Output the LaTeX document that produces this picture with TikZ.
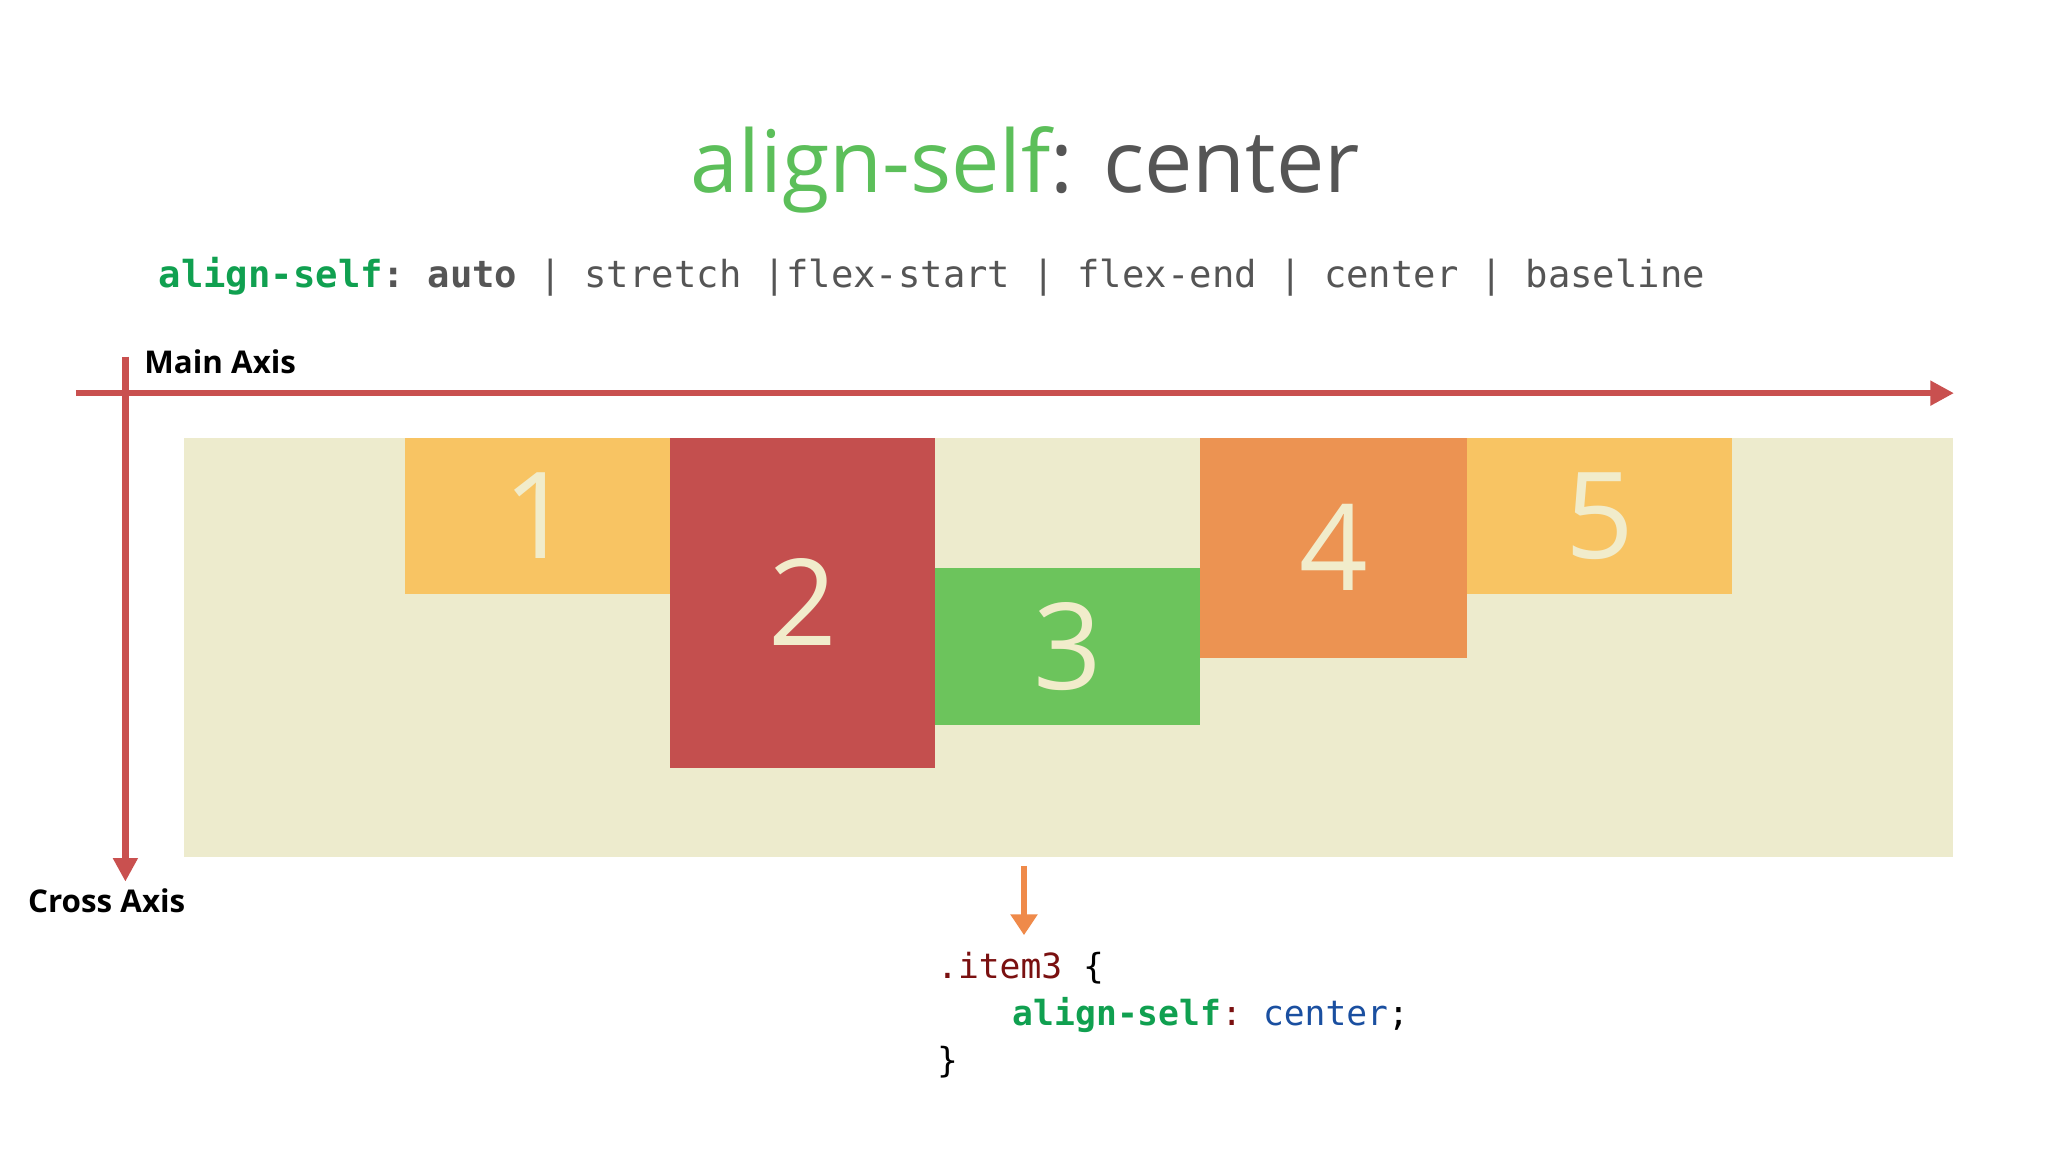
\documentclass[tikz,border=0pt]{standalone}
\usepackage{fontspec}
\setmainfont{Open Sans}
\setmonofont{DejaVu Sans Mono}
\newfontfamily\labfont{Open Sans}
\definecolor{ttl}{HTML}{5CBF5A}
\definecolor{gry}{HTML}{555555}
\definecolor{axc}{HTML}{C9504F}
\definecolor{cont}{HTML}{EDEBCD}
\definecolor{yel}{HTML}{F8C463}
\definecolor{red2}{HTML}{C44F4E}
\definecolor{grn}{HTML}{6CC45C}
\definecolor{org}{HTML}{EC9352}
\definecolor{numc}{HTML}{F1ECCB}
\definecolor{kw}{HTML}{10A050}
\definecolor{sel}{HTML}{7A1010}
\definecolor{val}{HTML}{1A4FA0}
\definecolor{oarr}{HTML}{EF8A4A}
\usetikzlibrary{arrows.meta}
\begin{document}
\begin{tikzpicture}[x=1pt,y=-1pt,
  item/.style={draw=none,inner sep=0pt},
  num/.style={font=\fontsize{92}{92}\selectfont, text=numc},
  axis/.style={draw=axc,line width=5pt,-{Triangle[length=18pt,width=18pt]}}]
\useasboundingbox[fill=white] (0,0) rectangle (1568,882);
\node[font=\fontsize{66}{66}\selectfont] (title) at (785,130) {\textcolor{ttl}{align-self}\textcolor{gry}{: center}};
\node[anchor=west,font=\ttfamily\fontsize{28.5}{28.5}\selectfont,text=gry] (syn) at (118,212) {\textcolor{kw}{\bfseries align-self}\textbf{: auto} | stretch |flex-start | flex-end | center | baseline};
\fill[cont] (141,335) rectangle (1495,656);
\fill[yel] (310,335) rectangle (513,455);
\node[num] (n1) at (411.5,395) {1};
\fill[red2] (513,335) rectangle (716,588);
\node[num] (n2) at (614.5,461) {2};
\fill[grn] (716,435) rectangle (919,555);
\node[num] (n3) at (817.5,495) {3};
\fill[org] (919,335) rectangle (1123,504);
\node[num] (n4) at (1021,419) {4};
\fill[yel] (1123,335) rectangle (1326,455);
\node[num] (n5) at (1224.5,395) {5};
\coordinate (ma) at (58,301); \coordinate (mb) at (1496,301);
\coordinate (ca) at (96,273); \coordinate (cb) at (96,675);
\draw[axis] (ma) -- (mb);
\draw[axis] (ca) -- (cb);
\node[anchor=west,font=\bfseries\fontsize{24}{24}\selectfont] (mlab) at (107,277) {Main Axis};
\node[anchor=west,font=\bfseries\fontsize{24}{24}\selectfont] (clab) at (18,690) {Cross Axis};
\coordinate (oa) at (784,663); \coordinate (ob) at (784,716);
\draw[draw=oarr,line width=5pt,-{Triangle[length=16pt,width=20pt]}] (oa) -- (ob);
\node[anchor=west,font=\ttfamily\fontsize{26.5}{26.5}\selectfont] (c1) at (714,741) {\textcolor{sel}{.item3} \{};
\node[anchor=west,font=\ttfamily\fontsize{26.5}{26.5}\selectfont] (c2) at (772,777) {\textcolor{kw}{\bfseries align-self}\textcolor{sel}{:} \textcolor{val}{center};};
\node[anchor=west,font=\ttfamily\fontsize{26.5}{26.5}\selectfont] (c3) at (714,813) {\}};
\end{tikzpicture}
\end{document}
